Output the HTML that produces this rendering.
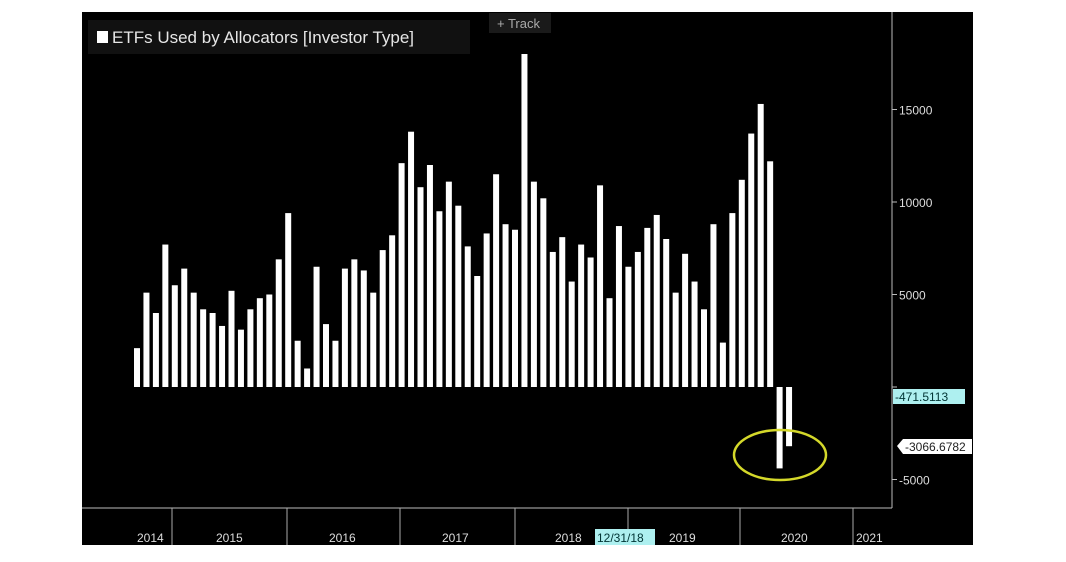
<!DOCTYPE html>
<html><head><meta charset="utf-8"><style>
body{margin:0;background:#fff;width:1066px;height:562px;overflow:hidden;font-family:"Liberation Sans",sans-serif}
svg{position:absolute;left:0;top:0}
</style></head><body>
<svg width="1066" height="562">
<rect x="82" y="12" width="891" height="533" fill="#000"/>
<rect x="88" y="20" width="382" height="34" fill="#111"/>
<rect x="97" y="31" width="11" height="12" fill="#fff"/>
<text x="112" y="43" fill="#e6e6e6" font-size="17">ETFs Used by Allocators [Investor Type]</text>
<rect x="489" y="13" width="62" height="20" fill="#1a1a1a"/>
<text x="497" y="28" fill="#aaa" font-size="13">+ Track</text>
<line x1="892" y1="12" x2="892" y2="508" stroke="#bbb"/>
<line x1="82" y1="508" x2="892" y2="508" stroke="#bbb"/>
<g id="bars"></g><g id="yt"></g><g id="xt"></g>
<ellipse cx="780" cy="455" rx="46" ry="25" fill="none" stroke="#d4d82a" stroke-width="2.5"/>
<rect x="893" y="389" width="72" height="15" fill="#aef0f0"/>
<text x="895" y="401" fill="#033" font-size="12">-471.5113</text>
<path d="M897 446 L903 439 L972 439 L972 454 L903 454 Z" fill="#fff"/>
<text x="905" y="451" fill="#222" font-size="12">-3066.6782</text>
<rect x="595" y="529" width="60" height="16" fill="#aef0f0"/>
<text x="597" y="542" fill="#033" font-size="12">12/31/18</text>
</svg>
<script>
const values=[2100,5100,4000,7700,5500,6400,5100,4200,4000,3300,5200,3100,4200,4800,5000,6900,9400,2500,1000,6500,3400,2500,6400,6900,6300,5100,7400,8200,12100,13800,10800,12000,9500,11100,9800,7600,6000,8300,11500,8800,8500,18000,11100,10200,7300,8100,5700,7700,7000,10900,4800,8700,6500,7300,8600,9300,8000,5100,7200,5700,4200,8800,2400,9400,11200,13700,15300,12200,-4400,-3200];
const yTicks=[-5000,0,5000,10000,15000];
const years=["2014","2015","2016","2017","2018","2019","2020","2021"];
const yearLabelX=[151,230,343,456,569,683,795,870];
const yearDiv=[172,287,400,515,628,740,853];
const NS="http://www.w3.org/2000/svg";
function y(v){return 387-v*0.0185;}
function x(i){return 134+i*9.45;}
function mk(t,a){const e=document.createElementNS(NS,t);for(const k in a)e.setAttribute(k,a[k]);return e;}
const gb=document.getElementById('bars');
values.forEach((v,i)=>{const r=mk('rect',{x:x(i),y:Math.min(y(v),y(0)),width:6,height:Math.abs(y(v)-y(0)),fill:'#fff'});


gb.appendChild(r);});
const gy=document.getElementById('yt');
yTicks.forEach(t=>{const l=mk('line',{x1:892,x2:897,y1:y(t),y2:y(t),stroke:'#bbb'});gy.appendChild(l);
if(t===0)return;
const tx=mk('text',{x:899,y:y(t)+5,fill:'#ddd','font-size':12});tx.textContent=t;


gy.appendChild(tx);});
const gx=document.getElementById('xt');
yearDiv.forEach(d=>{gx.appendChild(mk('line',{x1:d,x2:d,y1:508,y2:545,stroke:'#aaa'}));});
years.forEach((yr,i)=>{const tx=mk('text',{x:yearLabelX[i]-14,y:542,fill:'#ddd','font-size':12});tx.textContent=yr;


gx.appendChild(tx);});
</script>
</body></html>
